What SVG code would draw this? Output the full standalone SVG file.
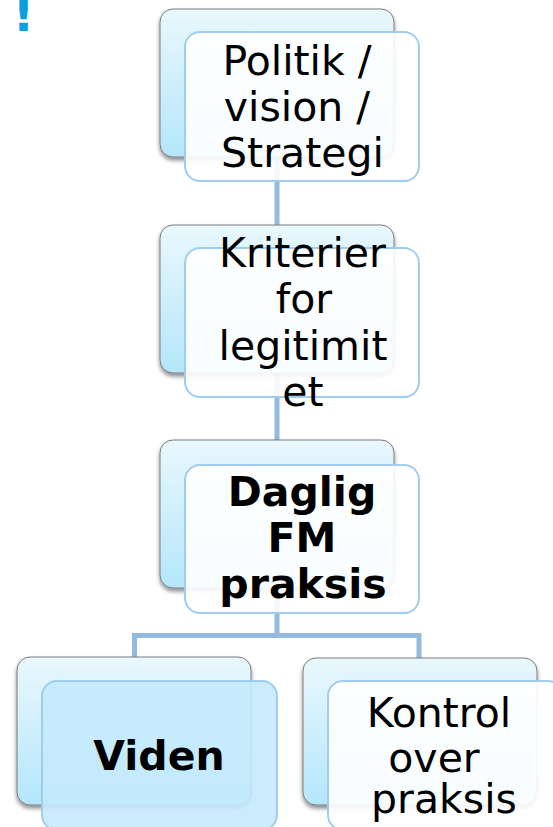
<svg xmlns="http://www.w3.org/2000/svg" width="553" height="827" viewBox="0 0 553 827">
<defs>
<linearGradient id="bg" x1="0" y1="0" x2="0" y2="1">
<stop offset="0" stop-color="#e9f8fd"/>
<stop offset="1" stop-color="#b4e6fb"/>
</linearGradient>
<filter id="sh" x="-10%" y="-10%" width="120%" height="125%">
<feDropShadow dx="0" dy="3" stdDeviation="2" flood-color="#000" flood-opacity="0.45"/>
</filter>
</defs>
<style>
.back{fill:url(#bg);stroke:#7c7c7c;stroke-width:1;filter:url(#sh)}
.front{fill:#ffffff;fill-opacity:0.9;stroke:#9fcdf0;stroke-width:2}
.frontb{fill:#c4eafc;fill-opacity:0.9;stroke:#9fcdf0;stroke-width:2}
.t{font-family:"DejaVu Sans","Verdana",sans-serif;font-size:41px;fill:#000;text-anchor:middle}
.b{font-weight:bold}
.conn{fill:none;stroke:#93bbdf;stroke-width:5}
</style>
<rect width="553" height="827" fill="#ffffff"/>
<text x="23.5" y="31" style="font-family:'DejaVu Sans',sans-serif;font-size:48px;font-weight:bold;fill:#0aa0e0;text-anchor:middle">!</text>
<g id="connectors">
<path class="conn" d="M277 150 V 230"/>
<path class="conn" d="M277 366 V 445"/>
<path class="conn" d="M277 580 V 635.5"/>
<path class="conn" d="M134.5 662 V 635.5 H 419 V 662"/>
</g>
<g id="n1">
<rect class="back" x="160" y="9" width="234" height="148" rx="13"/>
<rect class="front" x="185" y="32" width="234" height="149" rx="15"/>
<text class="t" x="297" y="75">Politik /</text>
<text class="t" x="297" y="121">vision /</text>
<text class="t" x="302.5" y="167">Strategi</text>
</g>
<g id="n2">
<rect class="back" x="160" y="225" width="234" height="148" rx="13"/>
<rect class="front" x="185" y="248" width="234" height="149" rx="15"/>
<text class="t" x="302.5" y="267">Kriterier</text>
<text class="t" x="304" y="313">for</text>
<text class="t" x="303" y="360">legitimit</text>
<text class="t" x="303" y="406">et</text>
</g>
<g id="n3">
<rect class="back" x="160" y="440" width="234" height="148" rx="13"/>
<rect class="front" x="185" y="465" width="234" height="148" rx="15"/>
<text class="t b" x="302" y="506">Daglig</text>
<text class="t b" x="302" y="552">FM</text>
<text class="t b" x="303" y="598">praksis</text>
</g>
<g id="n4">
<rect class="back" x="17" y="657" width="234" height="148" rx="13"/>
<rect class="frontb" x="42" y="681" width="235" height="149" rx="15"/>
<text class="t b" x="159" y="770">Viden</text>
</g>
<g id="n5">
<rect class="back" x="303" y="658" width="234" height="147" rx="13"/>
<rect class="front" x="328" y="681" width="235" height="149" rx="15"/>
<text class="t" x="439" y="727">Kontrol</text>
<text class="t" x="434" y="772">over</text>
<text class="t" x="444" y="813">praksis</text>
</g>
</svg>
